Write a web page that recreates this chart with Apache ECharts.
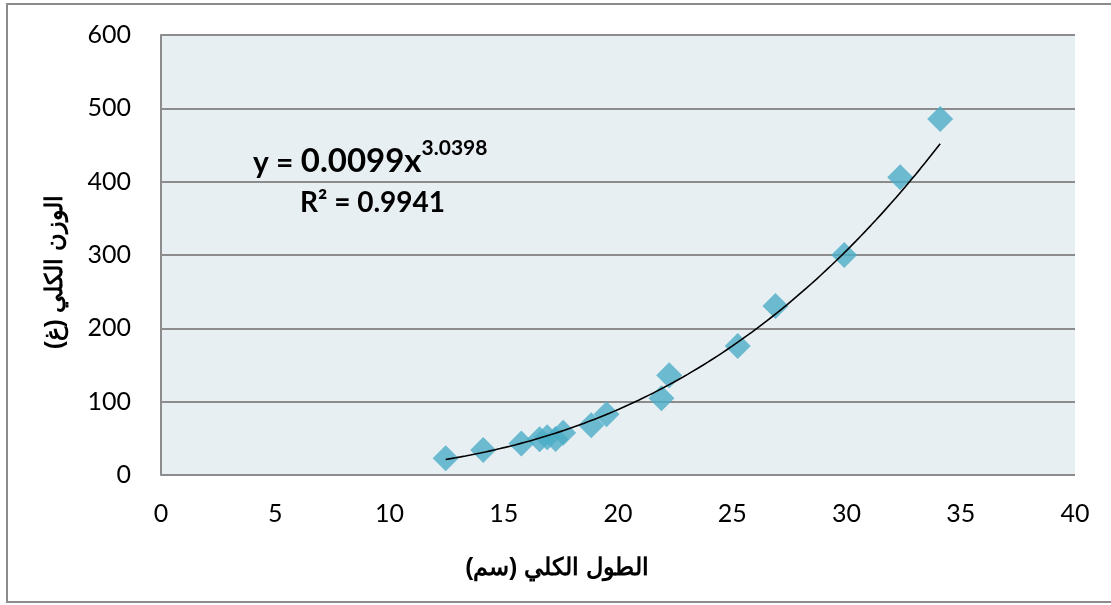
<!DOCTYPE html>
<html><head><meta charset="utf-8">
<script src="https://cdn.jsdelivr.net/npm/echarts@6/dist/echarts.min.js"></script>
<style>html,body{margin:0;padding:0;background:#fff}#c{width:1111px;height:605px}</style>
</head><body><div id="c"></div>
<script>
var lengths = [12.46, 14.1, 15.77, 16.57, 16.9, 17.27, 17.6, 18.83, 19.5, 21.9, 22.24, 25.24, 26.89, 29.9, 32.35, 34.1];
var weights = [22.7, 34, 43, 48.6, 51.4, 49, 57.7, 68, 83, 104.5, 136, 176, 230.5, 300, 406, 485.5];
var trendA = 0.0099, trendB = 3.0398;
var xTitle = 'الطول الكلي (سم)';
var yTitle = 'الوزن الكلي (غ)';
var eqMain = '0.0099x', eqExp = '3.0398', r2Text = 'R² = 0.9941';

var pts = lengths.map(function(x,i){return [x, weights[i]];});
var xmin = Math.min.apply(null, lengths), xmax = Math.max.apply(null, lengths);
var trend = [];
for (var k = 0; k <= 100; k++) { var x = xmin + (xmax - xmin) * k / 100; trend.push([x, trendA * Math.pow(x, trendB)]); }

var chart = echarts.init(document.getElementById('c'));
var tickFont = {fontFamily: 'Lato, "Noto Sans", sans-serif', fontSize: 25, color: '#000'};
chart.setOption({
  animation: false,
  grid: {left: 161, top: 35, width: 914, height: 440, show: true, backgroundColor: '#E8EFF3', borderWidth: 0},
  xAxis: {type: 'value', min: 0, max: 40, interval: 5,
    axisLine: {show: false}, axisTick: {show: false}, splitLine: {show: false},
    axisLabel: Object.assign({margin: 26}, tickFont)},
  yAxis: {type: 'value', min: 0, max: 600, interval: 100,
    axisLine: {show: true, lineStyle: {color: '#8C8C8C', width: 2}}, axisTick: {show: false},
    splitLine: {show: true, lineStyle: {color: '#8C8C8C', width: 2}},
    axisLabel: Object.assign({margin: 30}, tickFont)},
  series: [
    {type: 'scatter', data: pts, symbol: 'diamond', symbolSize: 26, itemStyle: {color: '#4BACC6'}, z: 2},
    {type: 'line', data: trend, showSymbol: false, smooth: false, lineStyle: {color: '#000', width: 1.6}, z: 3}
  ],
  graphic: [
    {type: 'rect', shape: {x: 7, y: 4, width: 1120, height: 598}, style: {fill: 'none', stroke: '#8C8C8C', lineWidth: 2}, silent: true},
    {type: 'text', x: 557, y: 568, style: {text: xTitle, font: 'bold 24px "Liberation Sans", Arial, sans-serif', fill: '#000', align: 'center', verticalAlign: 'middle'}},
    {type: 'text', x: 55, y: 272, rotation: Math.PI / 2, style: {text: yTitle, font: 'bold 24px "Liberation Sans", Arial, sans-serif', fill: '#000', align: 'center', verticalAlign: 'middle'}},
    {type: 'text', x: 253, y: 158, style: {
      text: '{a|y = }{b|' + eqMain + '}{c|' + eqExp + '}',
      rich: {
        a: {font: 'bold 30px Lato, "Noto Sans", sans-serif', fill: '#000', verticalAlign: 'bottom', lineHeight: 40},
        b: {font: 'bold 33px Lato, "Noto Sans", sans-serif', fill: '#000', verticalAlign: 'bottom', lineHeight: 40},
        c: {font: 'bold 21px Lato, "Noto Sans", sans-serif', fill: '#000', verticalAlign: 'top', lineHeight: 40}
      }, verticalAlign: 'middle'}},
    {type: 'text', x: 300, y: 203, style: {text: r2Text, font: 'bold 28px Lato, "Noto Sans", sans-serif', fill: '#000', verticalAlign: 'middle'}}
  ]
});
</script></body></html>
